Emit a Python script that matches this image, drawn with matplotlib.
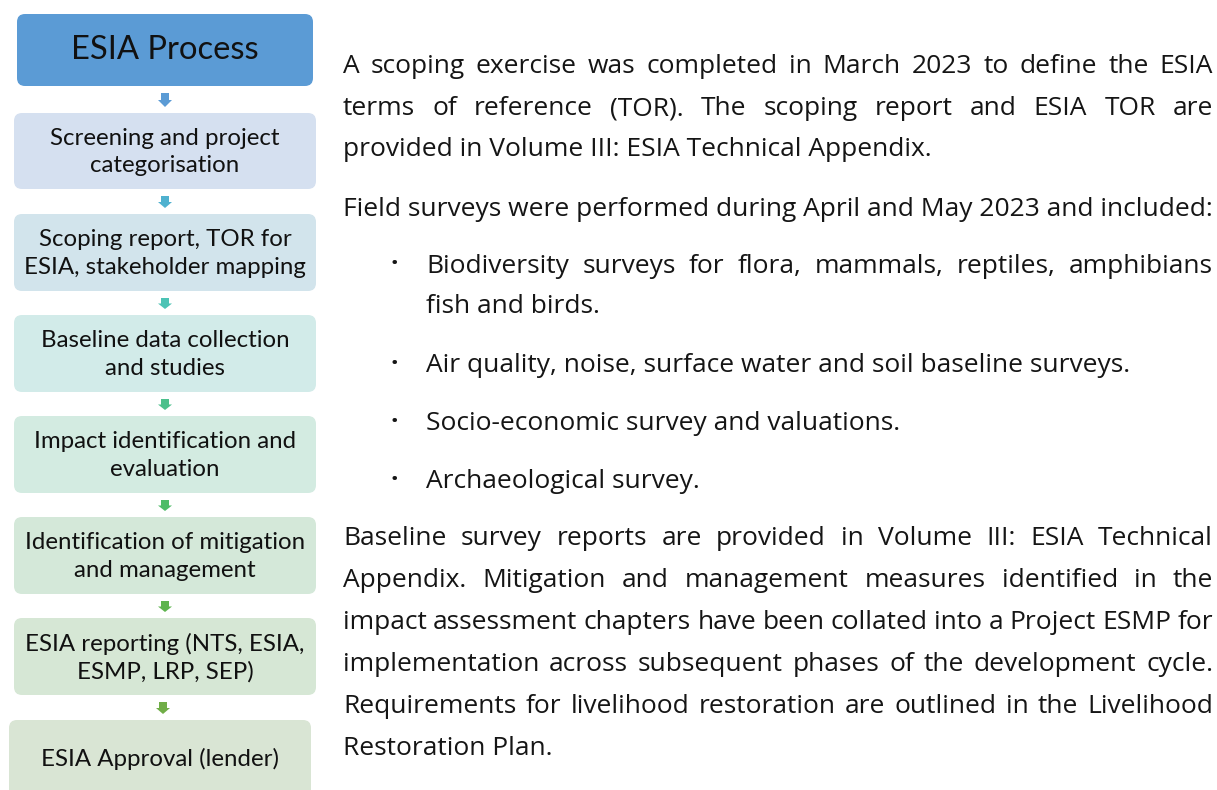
import matplotlib
matplotlib.use("Agg")
import matplotlib.pyplot as plt
from matplotlib.patches import FancyBboxPatch, Polygon

# flow chart steps (left column)
steps = [
    "ESIA Process",
    "Screening and project\ncategorisation",
    "Scoping report, TOR for\nESIA, stakeholder mapping",
    "Baseline data collection\nand studies",
    "Impact identification and\nevaluation",
    "Identification of mitigation\nand management",
    "ESIA reporting (NTS, ESIA,\nESMP, LRP, SEP)",
    "ESIA Approval (lender)",
]
box_colors = ["#5B9BD5", "#D5E0F0", "#D2E4EC", "#D2EBE9", "#D3EBE1",
              "#D4E8D9", "#D6E7D5", "#D9E5D4"]
arrow_colors = ["#5B9BD5", "#4FB1CF", "#4CC3B5", "#4CC08C", "#4EBC68",
                "#5EB44E", "#70AD47"]
box_tops = [14, 113, 214, 315, 416, 517, 618, 720]
box_bottoms = [86, 189, 291, 392, 493, 594, 695, 800]
box_lefts = [17, 14, 14, 14, 14, 14, 14, 9]
box_rights = [313, 316, 316, 316, 316, 316, 316, 311]

# right hand text
para1 = [
    "A scoping exercise was completed in March 2023 to define the ESIA",
    "terms of reference (TOR). The scoping report and ESIA TOR are",
    "provided in Volume III: ESIA Technical Appendix.",
]
para2 = ["Field surveys were performed during April and May 2023 and included:"]
bullets = [
    ["Biodiversity surveys for flora, mammals, reptiles, amphibians",
     "fish and birds."],
    ["Air quality, noise, surface water and soil baseline surveys."],
    ["Socio-economic survey and valuations."],
    ["Archaeological survey."],
]
para3 = [
    "Baseline survey reports are provided in Volume III: ESIA Technical",
    "Appendix. Mitigation and management measures identified in the",
    "impact assessment chapters have been collated into a Project ESMP for",
    "implementation across subsequent phases of the development cycle.",
    "Requirements for livelihood restoration are outlined in the Livelihood",
    "Restoration Plan.",
]
para1_y = [73, 115, 156]
para2_y = [216]
bullet_y = [[273, 313], [372], [430], [488]]
para3_y = [545, 587, 629, 671, 713, 755]

W, H = 1217, 790
fig = plt.figure(figsize=(W / 100, H / 100), dpi=100)
ax = fig.add_axes([0, 0, 1, 1])
ax.set_xlim(0, W)
ax.set_ylim(H, 0)
ax.axis("off")

box_font = "Lato"
for i, txt in enumerate(steps):
    x0, x1 = box_lefts[i], box_rights[i]
    y0, y1 = box_tops[i], box_bottoms[i]
    ax.add_patch(FancyBboxPatch((x0, y0), x1 - x0, y1 - y0,
                                boxstyle="round,pad=0,rounding_size=8",
                                fc=box_colors[i], ec="none"))
    yc = (y0 + y1) / 2 + 1
    if i == 7:
        yc = 759
    if i == 0:
        yc = 50
    size = 23.6 if i == 0 else 17.3
    ax.text((x0 + x1) / 2, yc, txt, ha="center", va="center",
            fontsize=size, family=box_font, color="#111111", linespacing=1.36)

for i, c in enumerate(arrow_colors):
    xc = 165 if i < 6 else 163
    top = box_bottoms[i] + 7
    bot = box_tops[i + 1] - 6
    h = bot - top
    mid = top + h * 0.5
    pts = [(xc - 4, top), (xc + 4, top), (xc + 4, mid), (xc + 7, mid),
           (xc, bot), (xc - 7, mid), (xc - 4, mid)]
    ax.add_patch(Polygon(pts, closed=True, fc=c, ec="none"))

fig.canvas.draw()
renderer = fig.canvas.get_renderer()
FS = 19.0
FONT = "Open Sans"
XR = 1213


def put_line(line, x0, y, justify):
    if not justify:
        ax.text(x0, y, line, fontsize=FS, family=FONT, va="baseline",
                ha="left", color="#151515")
        return
    words = line.split()
    objs = []
    widths = []
    for w in words:
        t = ax.text(0, y, w, fontsize=FS, family=FONT, va="baseline",
                    ha="left", color="#151515")
        objs.append(t)
        widths.append(t.get_window_extent(renderer).width)
    gap = (XR - x0 - sum(widths)) / (len(words) - 1)
    x = x0
    for t, wd in zip(objs, widths):
        t.set_x(x)
        x += wd + gap


for j, line in enumerate(para1):
    put_line(line, 343, para1_y[j], j < len(para1) - 1)
put_line(para2[0], 343, para2_y[0], False)
for b, lines in enumerate(bullets):
    ax.text(394, bullet_y[b][0] - 9, "\u00b7", fontsize=FS, family=FONT,
            ha="center", va="center", color="#151515", fontweight="bold")
    for j, line in enumerate(lines):
        put_line(line, 426, bullet_y[b][j], j < len(lines) - 1)
for j, line in enumerate(para3):
    put_line(line, 343, para3_y[j], j < len(para3) - 1)

fig.savefig("out.png", dpi=100)
